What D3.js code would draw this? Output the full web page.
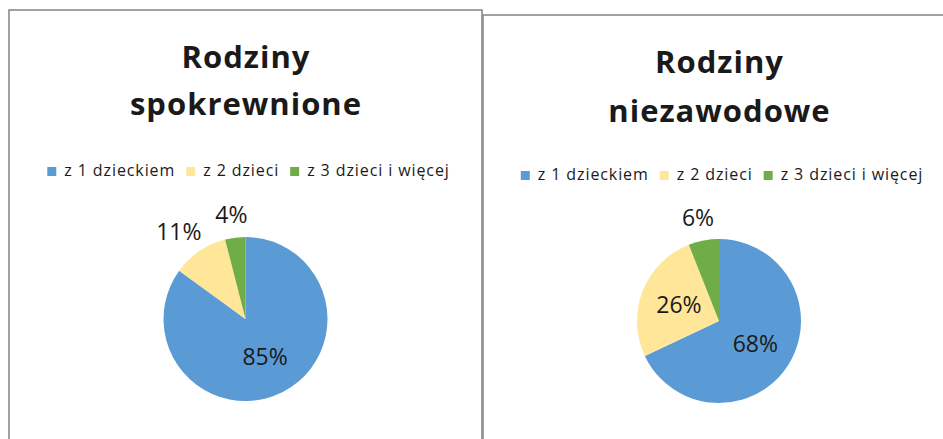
<!DOCTYPE html>
<html>
<head>
<meta charset="utf-8">
<script src="https://cdn.jsdelivr.net/npm/d3@7"></script>
<style>
  body { margin: 0; background: #fff; }
  text { font-family: "Open Sans", Lato, sans-serif; fill: #1a1a1a; }
</style>
</head>
<body>
<script>
var width = 943, height = 439;

// data
var categories = ["z 1 dzieckiem", "z 2 dzieci", "z 3 dzieci i więcej"];
var titles = [["Rodziny", "spokrewnione"], ["Rodziny", "niezawodowe"]];
var valuesSpokrewnione = [85, 11, 4];
var valuesNiezawodowe = [68, 26, 6];

var color = d3.scaleOrdinal()
              .domain(categories)
              .range(["#5B9BD5", "#FFE699", "#70AD47"]);

var svg = d3.select("body")
            .append("svg")
            .attr("width", width)
            .attr("height", height);

var panels = [
  {x: 9, y: 10, w: 473, values: valuesSpokrewnione, title: titles[0]},
  {x: 483, y: 15, w: 472, values: valuesNiezawodowe, title: titles[1]}
];

var r = 82;

var arc = d3.arc().innerRadius(0).outerRadius(r);
var inArc = d3.arc().innerRadius(0).outerRadius(r * 1.05);
var outArc = d3.arc().innerRadius(r + 14).outerRadius(r + 14);

var pie = d3.pie().sort(null).value(function(d) { return d; });

panels.forEach(function(p, k) {
  var g = svg.append("g").attr("transform", "translate(" + p.x + "," + p.y + ")");
  var cx = p.w / 2;

  g.append("rect")
   .attr("x", 0).attr("y", 0)
   .attr("width", p.w).attr("height", height + 10)
   .attr("fill", "#fff")
   .attr("stroke", "#8a8a8a")
   .attr("stroke-width", 1.6);

  // title
  g.append("text")
   .attr("x", cx + 0.5).attr("y", 57.5 + (k ? 0.5 : 0))
   .attr("text-anchor", "middle")
   .attr("font-size", 31).attr("font-weight", "bold")
   .attr("letter-spacing", 1)
   .text(p.title[0]);
  g.append("text")
   .attr("x", cx + 0.5).attr("y", 105 + (k ? 2 : 0))
   .attr("text-anchor", "middle")
   .attr("font-size", 31).attr("font-weight", "bold")
   .attr("letter-spacing", 1)
   .text(p.title[1]);

  // legend
  var ly = 166 - (k ? 1 : 0);
  var legend = g.append("g");
  var items = legend.selectAll("g").data(categories).enter().append("g");
  items.append("rect")
       .attr("y", -9).attr("width", 9).attr("height", 9)
       .attr("fill", function(d) { return color(d); });
  items.append("text")
       .attr("x", 17).attr("y", 0)
       .attr("font-size", 16)
       .attr("letter-spacing", 0.9)
       .text(function(d) { return d; });
  var xs = 0;
  items.each(function() {
    var bw = this.getBBox().width;
    d3.select(this).attr("transform", "translate(" + xs + ",0)");
    xs += bw + 11;
  });
  legend.attr("transform", "translate(" + (cx - (xs - 11) / 2 + 3) + "," + ly + ")");

  // pie
  var total = d3.sum(p.values);
  var plot = g.append("g").attr("transform", "translate(" + cx + "," + (309 - (k ? 3 : 0)) + ")");
  var arcs = plot.selectAll("g").data(pie(p.values)).enter().append("g");
  arcs.append("path")
      .attr("d", arc)
      .attr("fill", function(d, i) { return color(categories[i]); });
  arcs.append("text")
      .attr("text-anchor", "middle")
      .attr("dy", "0.35em")
      .attr("font-size", 23)
      .text(function(d) { return Math.round(d.value / total * 100) + "%"; })
      .attr("transform", function(d) {
        if (d.value / total >= 0.2) return "translate(" + inArc.centroid(d) + ")";
        // outside: push the label box away from the pie edge
        var c = outArc.centroid(d);
        var a = (d.startAngle + d.endAngle) / 2;
        var w = this.getComputedTextLength();
        return "translate(" + (c[0] + Math.sin(a) * w / 2) + "," + (c[1] - Math.cos(a) * 9) + ")";
      });
});
</script>
</body>
</html>
